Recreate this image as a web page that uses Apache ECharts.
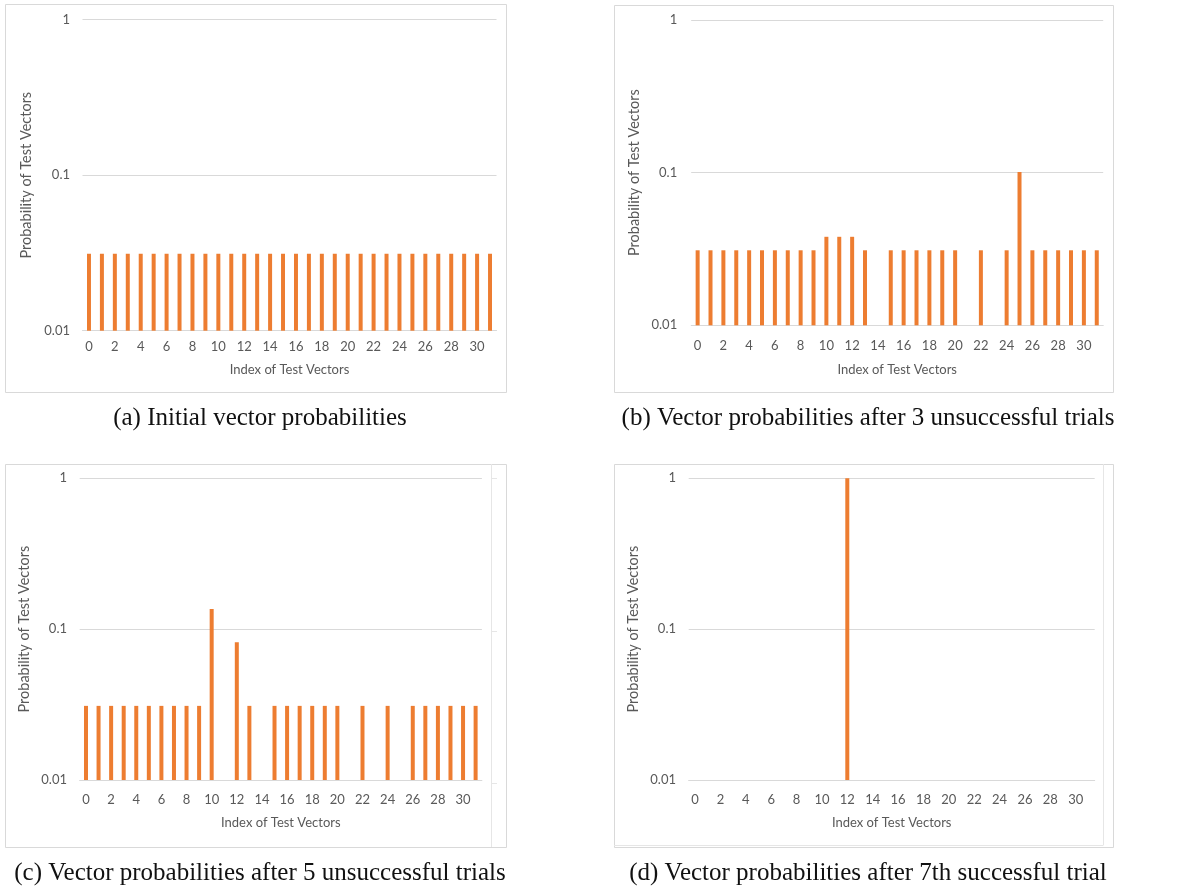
<!DOCTYPE html>
<html>
<head>
<meta charset="utf-8">
<script src="https://cdn.jsdelivr.net/npm/echarts@6/dist/echarts.min.js"></script>
<style>
  html, body { margin: 0; padding: 0; background: #ffffff; }
  #chart { width: 1203px; height: 890px; }
</style>
</head>
<body>
<div id="chart"></div>
<script>
// ---- data ----
const categories = ['0','1','2','3','4','5','6','7','8','9','10','11','12','13','14','15',
                    '16','17','18','19','20','21','22','23','24','25','26','27','28','29','30','31'];

const probsInitial = [0.03125,0.03125,0.03125,0.03125,0.03125,0.03125,0.03125,0.03125,
                      0.03125,0.03125,0.03125,0.03125,0.03125,0.03125,0.03125,0.03125,
                      0.03125,0.03125,0.03125,0.03125,0.03125,0.03125,0.03125,0.03125,
                      0.03125,0.03125,0.03125,0.03125,0.03125,0.03125,0.03125,0.03125];

const probsAfter3 = [0.031,0.031,0.031,0.031,0.031,0.031,0.031,0.031,
                     0.031,0.031,0.038,0.038,0.038,0.031,null,0.031,
                     0.031,0.031,0.031,0.031,0.031,null,0.031,null,
                     0.031,0.101,0.031,0.031,0.031,0.031,0.031,0.031];

const probsAfter5 = [0.031,0.031,0.031,0.031,0.031,0.031,0.031,0.031,
                     0.031,0.031,0.136,null,0.082,0.031,null,0.031,
                     0.031,0.031,0.031,0.031,0.031,null,0.031,null,
                     0.031,null,0.031,0.031,0.031,0.031,0.031,0.031];

const probsAfter7 = [null,null,null,null,null,null,null,null,
                     null,null,null,null,1,null,null,null,
                     null,null,null,null,null,null,null,null,
                     null,null,null,null,null,null,null,null];

const captions = [
  '(a) Initial vector probabilities',
  '(b) Vector probabilities after 3 unsuccessful trials',
  '(c) Vector probabilities after 5 unsuccessful trials',
  '(d) Vector probabilities after 7th successful trial'
];
const xAxisName = 'Index of Test Vectors';
const yAxisName = 'Probability of Test Vectors';

// ---- layout ----
const panels = [
  { grid: {left: 82.5, top: 19.7, width: 414, height: 311}, data: probsInitial,
    labelMargin: 9.5, xNameGap: 32.5, yNameGap: 48.5, yLabelMargin: 12.5,
    box: [5, 4, 501, 388], cap: [260, 418] },
  { grid: {left: 691.2, top: 20, width: 412, height: 305.3}, data: probsAfter3,
    labelMargin: 14.5, xNameGap: 38, yNameGap: 49, yLabelMargin: 14,
    box: [614, 5, 499, 387], cap: [868, 418] },
  { grid: {left: 79.7, top: 478.3, width: 402.2, height: 301.7}, data: probsAfter5,
    labelMargin: 13.5, xNameGap: 36.5, yNameGap: 47.7, yLabelMargin: 12.7,
    box: [5, 464, 501, 383], cap: [260, 873] },
  { grid: {left: 688.7, top: 478.3, width: 406, height: 301.7}, data: probsAfter7,
    labelMargin: 13.5, xNameGap: 36.5, yNameGap: 47.7, yLabelMargin: 12.7,
    box: [614, 464, 499, 383], cap: [868, 873] }
];

const axisFont = 'Lato, "Noto Sans", sans-serif';
const textGray = '#595959';
const gridGray = '#d9d9d9';
const barColor = '#ED7D31';

const option = {
  animation: false,
  backgroundColor: '#ffffff',
  grid: panels.map(p => Object.assign({containLabel: false}, p.grid)),
  xAxis: panels.map((p, i) => ({
    type: 'category',
    gridIndex: i,
    data: categories,
    name: xAxisName,
    nameLocation: 'middle',
    nameGap: p.xNameGap,
    nameTextStyle: {color: textGray, fontFamily: axisFont, fontSize: 13},
    axisLine: {show: true, lineStyle: {color: gridGray, width: 1}},
    axisTick: {show: false},
    axisLabel: {interval: 1, margin: p.labelMargin, color: textGray, fontFamily: axisFont, fontSize: 13},
    splitLine: {show: false}
  })),
  yAxis: panels.map((p, i) => ({
    type: 'log',
    logBase: 10,
    gridIndex: i,
    min: 0.01,
    max: 1,
    startValue: 0.01,
    name: yAxisName,
    nameLocation: 'middle',
    nameGap: p.yNameGap,
    nameTextStyle: {color: textGray, fontFamily: axisFont, fontSize: 14.5},
    axisLine: {show: false},
    axisTick: {show: false},
    axisLabel: {margin: p.yLabelMargin, color: textGray, fontFamily: axisFont, fontSize: 13},
    splitLine: {show: true, lineStyle: {color: gridGray, width: 1}}
  })),
  series: panels.map((p, i) => ({
    type: 'bar',
    xAxisIndex: i,
    yAxisIndex: i,
    data: p.data,
    barWidth: 4,
    itemStyle: {color: barColor},
    silent: true
  })),
  graphic: [].concat(
    panels.map(p => ({
      type: 'rect',
      shape: {x: p.box[0] + 0.5, y: p.box[1] + 0.5, width: p.box[2], height: p.box[3]},
      style: {fill: null, stroke: gridGray, lineWidth: 1},
      silent: true
    })),
    panels.map((p, i) => ({
      type: 'text',
      x: p.cap[0],
      y: p.cap[1],
      style: {
        text: captions[i],
        fill: '#111111',
        font: '25px "Liberation Serif", "DejaVu Serif", serif',
        textAlign: 'center',
        textVerticalAlign: 'middle'
      },
      silent: true
    })),
    [
      // leftover edge of a neighbouring chart in panel (c)
      {type: 'line', shape: {x1: 491.5, y1: 464, x2: 491.5, y2: 847},
       style: {stroke: '#e6e6e6', lineWidth: 1}, silent: true},
      {type: 'line', shape: {x1: 492, y1: 478.5, x2: 497, y2: 478.5},
       style: {stroke: '#e6e6e6', lineWidth: 1}, silent: true},
      {type: 'line', shape: {x1: 492, y1: 631.5, x2: 497, y2: 631.5},
       style: {stroke: '#e6e6e6', lineWidth: 1}, silent: true},
      {type: 'line', shape: {x1: 492, y1: 783.5, x2: 497, y2: 783.5},
       style: {stroke: '#e6e6e6', lineWidth: 1}, silent: true},
      // inner frame edge in panel (d)
      {type: 'line', shape: {x1: 1103.5, y1: 464, x2: 1103.5, y2: 845},
       style: {stroke: '#e6e6e6', lineWidth: 1}, silent: true},
      {type: 'line', shape: {x1: 614, y1: 845.5, x2: 1103.5, y2: 845.5},
       style: {stroke: '#e6e6e6', lineWidth: 1}, silent: true}
    ]
  )
};

const chart = echarts.init(document.getElementById('chart'), null, {renderer: 'canvas'});
chart.setOption(option);
</script>
</body>
</html>
